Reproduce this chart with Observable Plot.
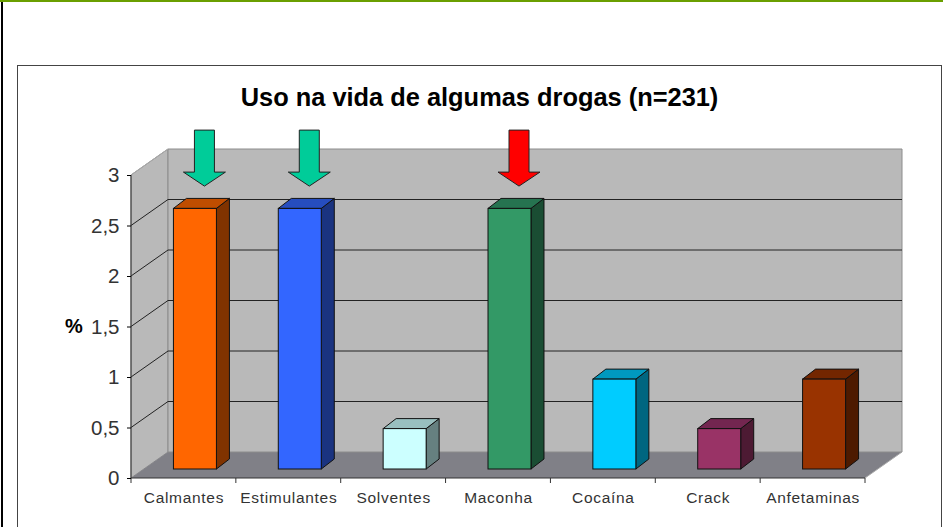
<!DOCTYPE html>
<html><head><meta charset="utf-8">
<script src="https://cdn.jsdelivr.net/npm/d3@7"></script>
<script src="https://cdn.jsdelivr.net/npm/@observablehq/plot@0.6"></script>
<style>
html,body{margin:0;padding:0;background:#fff;width:943px;height:527px;overflow:hidden}
#page{position:relative;width:943px;height:527px}
.deco{position:absolute}
svg{position:absolute;left:0;top:0;background:transparent!important}
g[aria-label="x-axis tick label"]{letter-spacing:.7px}
</style></head><body><div id="page">
<div class="deco" style="left:0;top:0;width:943px;height:2px;background:#6a9f00"></div>
<div class="deco" style="left:1px;top:2px;width:2px;height:525px;background:#000"></div>
<div class="deco" style="left:17px;top:65px;width:923px;height:462px;border:solid #444;border-width:1px 1px 0 1px"></div>
<div id="chart"></div>
</div>
<script>
const categories = ["Calmantes","Estimulantes","Solventes","Maconha","Cocaína","Crack","Anfetaminas"];
const values = [2.58,2.58,0.4,2.58,0.89,0.4,0.89];
const frontColors = ["#ff6600","#3366ff","#ccffff","#339966","#00ccff","#993366","#993300"];
const sideColors = ["#803300","#1a3380","#668080","#1a4d33","#006680","#4d1a33","#4d1a00"];
const topColors = ["#bf4d00","#264dbf","#99bfbf","#267350","#0099bf","#732650","#732600"];
const yTicks = [0,0.5,1,1.5,2,2.5,3];
const arrowCategories = ["Calmantes","Estimulantes","Maconha"];
const arrowValues = [2.9,2.9,2.9];
const arrowColors = ["#00cc99","#00cc99","#ff0000"];
const titleText = "Uso na vida de algumas drogas (n=231)";
const yLabel = "%";

const table = categories.map((c,i)=>({c,v:values[i],front:frontColors[i],side:sideColors[i],top:topColors[i]}));
const arrows = arrowCategories.map((c,i)=>({c,v:arrowValues[i],color:arrowColors[i]}));

// 3D styling offsets, in pixels
const wallDx = 37, wallDy = -26, barDx = 13, barDy = -10, barShiftX = 11.5, barShiftY = -9;
const NS = "http://www.w3.org/2000/svg";
const poly = (pts,attrs)=>{
  const p = document.createElementNS(NS,"polygon");
  p.setAttribute("points",pts.map(d=>d.join(",")).join(" "));
  for (const k in attrs) p.setAttribute(k,attrs[k]);
  return p;
};
const line = (a,b,stroke,w)=>{
  const l = document.createElementNS(NS,"line");
  l.setAttribute("x1",a[0]);l.setAttribute("y1",a[1]);l.setAttribute("x2",b[0]);l.setAttribute("y2",b[1]);
  l.setAttribute("stroke",stroke);l.setAttribute("stroke-width",w);
  return l;
};
const group = ()=>document.createElementNS(NS,"g");

const shell = (index,{x,y},values,{marginLeft,width,marginRight})=>{
  const g = group();
  const x0 = marginLeft, x1 = width-marginRight;
  const y0 = y(0), y3 = y(3);
  g.append(poly([[x0,y0],[x0+wallDx,y0+wallDy],[x0+wallDx,y3+wallDy],[x0,y3]],{fill:"#b9b9b9",stroke:"#8c8c8c"}));
  g.append(poly([[x0,y0],[x0+wallDx,y0+wallDy],[x1+wallDx,y0+wallDy],[x1,y0]],{fill:"#808087"}));
  g.append(poly([[x0+wallDx,y0+wallDy],[x1+wallDx,y0+wallDy],[x1+wallDx,y3+wallDy],[x0+wallDx,y3+wallDy]],{fill:"#b9b9b9",stroke:"#8c8c8c"}));
  for (const t of yTicks) if (t>0 && t<3) {
    g.append(line([x0,y(t)],[x0+wallDx,y(t)+wallDy],"#222",1));
    g.append(line([x0+wallDx,y(t)+wallDy],[x1+wallDx,y(t)+wallDy],"#222",1));
  }
  return g;
};
const axisLines = (index,{x,y},values,{marginLeft,width,marginRight})=>{
  const g = group();
  const x0 = marginLeft, x1 = width-marginRight;
  const step = (x1-x0)/categories.length;
  const y0 = y(0);
  g.append(line([x0,y(0)],[x0,y(3)],"#333",1));
  g.append(line([x0,y0],[x1,y0],"#333",1));
  g.append(line([x1,y0],[x1+wallDx,y0+wallDy],"#aaa",1));
  g.append(line([x0,y(3)],[x0+wallDx,y(3)+wallDy],"#aaa",1));
  for (let i=0;i<=categories.length;i++) g.append(line([x0+i*step,y0],[x0+i*step,y0+5],"#333",1));
  return g;
};
const depthFaces = (index,{x,y})=>{
  const g = group();
  const w = x.bandwidth;
  const bw = typeof w==="function"?w():w;
  for (const d of table) {
    const l = x(d.c)+barShiftX, r = l+bw, t = y(d.v)+barShiftY, b = y(0)+barShiftY;
    g.append(poly([[r,t],[r+barDx,t+barDy],[r+barDx,b+barDy],[r,b]],{fill:d.side,stroke:"#111"}));
    g.append(poly([[l,t],[l+barDx,t+barDy],[r+barDx,t+barDy],[r,t]],{fill:d.top,stroke:"#111"}));
  }
  return g;
};
const arrowMarks = (index,{x,y})=>{
  const g = group();
  const w = x.bandwidth;
  const bw = typeof w==="function"?w():w;
  for (const d of arrows) {
    const c = x(d.c)+bw/2+21, tip = y(d.v)+1;
    g.append(poly([[c-10,tip-56],[c+10,tip-56],[c+10,tip-14],[c+21,tip-14],[c,tip],[c-21,tip-14],[c-10,tip-14]],{fill:d.color,stroke:"#222"}));
  }
  return g;
};

const plot = Plot.plot({
  width:943,height:527,
  marginLeft:131,marginRight:78,marginTop:175,marginBottom:49,
  style:{background:"transparent",overflow:"visible"},
  x:{type:"band",domain:categories,paddingInner:0.59,paddingOuter:0.295,round:false,label:null},
  y:{domain:[0,3],ticks:yTicks,label:null},
  marks:[
    shell,
    depthFaces,
    Plot.barY(table,{x:"c",y:"v",fill:d=>d.front,stroke:"#111",dx:barShiftX,dy:barShiftY}),
    arrowMarks,
    axisLines,
    Plot.axisY(yTicks,{tickSize:4,tickPadding:8,tickFormat:d=>String(d).replace(".",","),fontSize:20.5,fontFamily:"Liberation Sans",fill:"#333",label:null,marginLeft:131}),
    Plot.axisX({tickSize:0,tickPadding:13,fontSize:15.5,fontFamily:"Liberation Sans",fill:"#333",label:null}),
    Plot.text([titleText],{text:d=>d,frameAnchor:"top",dy:-88,fontSize:25.4,fontWeight:"bold",fontFamily:"Liberation Sans",fill:"#000",dx:-19}),
    Plot.text([yLabel],{text:d=>d,x:()=>categories[0],y:()=>1.5,dx:-110,fontSize:20,fontWeight:"bold",fontFamily:"Liberation Sans",fill:"#000"})
  ]
});
document.getElementById("chart").append(plot);
</script></body></html>
